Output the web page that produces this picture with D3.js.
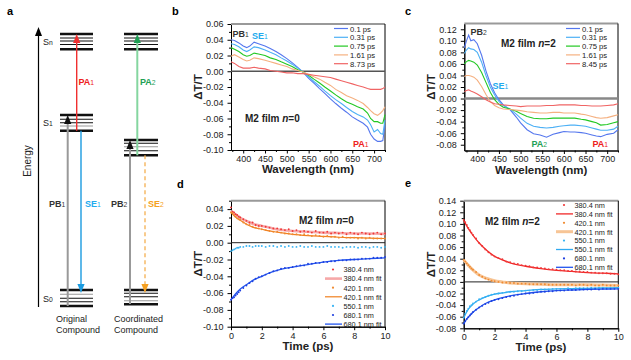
<!DOCTYPE html>
<html><head><meta charset="utf-8">
<script src="https://cdn.jsdelivr.net/npm/d3@7"></script>
<style>body{margin:0;background:#fff}svg{display:block;font-family:Arial,"Liberation Sans",sans-serif}</style>
</head><body><svg id="c" width="631" height="360"></svg>
<script>
// ---------- DATA ----------
// panel b (M2 film n=0 spectra)
const wlB = [372,380,390,400,408,415,425,435,450,462,475,487,500,512,525,537,550,562,575,587,600,612,625,637,650,662,675,685,692,700,708,715,720,725];
const b_0p1  = [0.040,0.039,0.036,0.032,0.030,0.032,0.037,0.035,0.032,0.029,0.025,0.021,0.016,0.011,0.005,-0.001,-0.009,-0.015,-0.022,-0.028,-0.035,-0.041,-0.047,-0.052,-0.058,-0.062,-0.066,-0.071,-0.080,-0.086,-0.089,-0.089,-0.088,-0.068];
const b_0p31 = [0.035,0.034,0.031,0.027,0.025,0.027,0.031,0.030,0.027,0.024,0.021,0.017,0.013,0.009,0.004,-0.001,-0.007,-0.013,-0.019,-0.025,-0.031,-0.036,-0.041,-0.046,-0.051,-0.055,-0.058,-0.062,-0.068,-0.077,-0.074,-0.079,-0.080,-0.062];
const b_0p75 = [0.030,0.028,0.025,0.021,0.019,0.020,0.023,0.022,0.020,0.017,0.015,0.012,0.009,0.006,0.002,-0.001,-0.005,-0.010,-0.015,-0.020,-0.025,-0.030,-0.035,-0.039,-0.042,-0.045,-0.048,-0.053,-0.060,-0.064,-0.064,-0.066,-0.066,-0.055];
const b_1p61 = [0.019,0.021,0.018,0.015,0.013,0.014,0.017,0.016,0.014,0.012,0.010,0.008,0.006,0.003,0.001,-0.001,-0.004,-0.007,-0.010,-0.014,-0.018,-0.023,-0.027,-0.031,-0.034,-0.037,-0.041,-0.046,-0.050,-0.054,-0.056,-0.053,-0.050,-0.045];
const b_8p73 = [0.012,0.010,0.006,0.004,0.004,0.004,0.005,0.004,0.003,0.001,0.000,-0.001,-0.002,-0.002,-0.003,-0.003,-0.004,-0.005,-0.006,-0.007,-0.008,-0.010,-0.012,-0.014,-0.016,-0.018,-0.020,-0.022,-0.023,-0.023,-0.023,-0.023,-0.022,-0.020];
const labelsB = ["0.1 ps","0.31 ps","0.75 ps","1.61 ps","8.73 ps"];

// panel c (M2 film n=2 spectra)
const wlC = [370,375,380,385,392,400,410,420,430,440,450,460,475,490,500,515,530,545,560,575,590,600,615,625,640,650,665,675,685,700,715,725];
const c_0p1  = [0.088,0.100,0.110,0.100,0.102,0.095,0.075,0.048,0.026,0.010,-0.002,-0.011,-0.019,-0.032,-0.042,-0.054,-0.061,-0.063,-0.067,-0.062,-0.059,-0.057,-0.058,-0.058,-0.059,-0.060,-0.063,-0.065,-0.066,-0.062,-0.060,-0.054];
const c_0p31 = [0.078,0.084,0.088,0.086,0.085,0.080,0.063,0.040,0.020,0.006,-0.005,-0.012,-0.018,-0.027,-0.034,-0.043,-0.048,-0.050,-0.051,-0.050,-0.048,-0.047,-0.046,-0.046,-0.047,-0.048,-0.051,-0.053,-0.055,-0.055,-0.053,-0.048];
const c_0p75 = [0.060,0.064,0.066,0.065,0.063,0.058,0.045,0.028,0.011,-0.002,-0.010,-0.015,-0.018,-0.022,-0.026,-0.031,-0.034,-0.035,-0.035,-0.034,-0.034,-0.034,-0.034,-0.034,-0.036,-0.037,-0.040,-0.042,-0.046,-0.045,-0.042,-0.040];
const c_1p61 = [0.038,0.040,0.040,0.039,0.037,0.032,0.021,0.007,-0.005,-0.012,-0.016,-0.018,-0.019,-0.020,-0.021,-0.023,-0.024,-0.025,-0.025,-0.024,-0.024,-0.025,-0.025,-0.025,-0.027,-0.028,-0.031,-0.033,-0.034,-0.033,-0.030,-0.028];
const c_8p45 = [0.012,0.014,0.015,0.013,0.011,0.008,0.003,-0.002,-0.006,-0.009,-0.010,-0.011,-0.012,-0.013,-0.014,-0.013,-0.013,-0.013,-0.012,-0.012,-0.011,-0.011,-0.011,-0.011,-0.012,-0.012,-0.013,-0.013,-0.013,-0.012,-0.011,-0.009];
const labelsC = ["0.1 ps","0.31 ps","0.75 ps","1.61 ps","8.45 ps"];

// kinetics: measured time points and fit sample times
const tDots = [0,0.1,0.2,0.3,0.4,0.5,0.6,0.8,1.0,1.2,1.4,1.6,1.8,2.0,2.25,2.5,2.75,3.0,3.25,3.5,3.75,4.0,4.25,4.5,4.75,5.0,5.25,5.5,5.75,6.0,6.25,6.5,6.75,7.0,7.25,7.5,7.75,8.0,8.25,8.5,8.75,9.0,9.25,9.5,9.75,10.0];
const tFit = [0,0.25,0.5,0.75,1,1.5,2,2.5,3,4,5,6,7,8,9,10];

// panel d (n=0)
const d_380 = [0.042,0.037,0.036,0.034,0.033,0.031,0.030,0.028,0.026,0.024,0.024,0.021,0.020,0.020,0.019,0.018,0.017,0.017,0.016,0.015,0.016,0.014,0.015,0.013,0.014,0.013,0.012,0.014,0.012,0.012,0.013,0.011,0.012,0.011,0.012,0.010,0.012,0.011,0.010,0.012,0.011,0.010,0.011,0.012,0.010,0.011];
const d_380fit = [0.038,0.034,0.031,0.028,0.026,0.022,0.020,0.018,0.016,0.014,0.013,0.012,0.0115,0.011,0.011,0.0105];
const d_420 = [0.036,0.035,0.033,0.031,0.029,0.028,0.027,0.024,0.022,0.021,0.019,0.018,0.017,0.016,0.015,0.014,0.013,0.013,0.012,0.011,0.011,0.010,0.010,0.009,0.010,0.009,0.008,0.009,0.008,0.007,0.008,0.007,0.007,0.006,0.007,0.006,0.006,0.006,0.005,0.006,0.005,0.006,0.005,0.005,0.005,0.005];
const d_420fit = [0.036,0.031,0.028,0.025,0.022,0.018,0.016,0.014,0.0125,0.010,0.0085,0.0075,0.0065,0.006,0.0055,0.005];
const d_550 = [-0.010,-0.009,-0.008,-0.007,-0.006,-0.006,-0.005,-0.005,-0.004,-0.004,-0.005,-0.004,-0.004,-0.004,-0.005,-0.004,-0.004,-0.005,-0.004,-0.005,-0.004,-0.005,-0.005,-0.004,-0.005,-0.005,-0.004,-0.005,-0.005,-0.005,-0.004,-0.005,-0.005,-0.005,-0.006,-0.005,-0.005,-0.005,-0.006,-0.005,-0.005,-0.006,-0.005,-0.005,-0.006,-0.005];
const d_680 = [-0.068,-0.066,-0.065,-0.063,-0.061,-0.059,-0.057,-0.054,-0.051,-0.048,-0.046,-0.043,-0.041,-0.040,-0.038,-0.036,-0.034,-0.033,-0.031,-0.030,-0.030,-0.029,-0.028,-0.027,-0.027,-0.025,-0.025,-0.024,-0.024,-0.023,-0.023,-0.022,-0.022,-0.021,-0.021,-0.021,-0.020,-0.020,-0.020,-0.019,-0.019,-0.019,-0.018,-0.018,-0.018,-0.017];
const d_680fit = [-0.068,-0.062,-0.057,-0.053,-0.050,-0.044,-0.040,-0.036,-0.033,-0.029,-0.026,-0.023,-0.021,-0.020,-0.019,-0.018];

// panel e (n=2)
const e_380 = [0.107,0.103,0.098,0.093,0.089,0.085,0.081,0.075,0.067,0.062,0.056,0.051,0.047,0.044,0.041,0.039,0.035,0.034,0.032,0.031,0.029,0.028,0.027,0.025,0.025,0.024,0.023,0.022,0.022,0.021,0.020,0.020,0.019,0.019,0.018,0.018,0.017,0.017,0.016,0.016,0.015,0.015,0.015,0.014,0.014,0.013];
const e_380fit = [0.106,0.094,0.084,0.075,0.067,0.054,0.044,0.038,0.033,0.027,0.023,0.020,0.018,0.016,0.015,0.014];
const e_420 = [0.038,0.035,0.032,0.029,0.026,0.023,0.021,0.017,0.012,0.009,0.006,0.004,0.002,0.001,0.000,-0.001,-0.001,-0.002,-0.002,-0.003,-0.003,-0.003,-0.004,-0.004,-0.004,-0.004,-0.004,-0.005,-0.005,-0.005,-0.005,-0.005,-0.005,-0.005,-0.006,-0.005,-0.005,-0.006,-0.005,-0.006,-0.006,-0.005,-0.006,-0.006,-0.006,-0.006];
const e_420fit = [0.038,0.030,0.023,0.017,0.012,0.006,0.002,0.000,-0.002,-0.003,-0.004,-0.005,-0.005,-0.005,-0.0055,-0.006];
const e_550 = [-0.062,-0.055,-0.050,-0.046,-0.042,-0.040,-0.037,-0.034,-0.030,-0.028,-0.026,-0.024,-0.022,-0.021,-0.020,-0.019,-0.018,-0.017,-0.017,-0.016,-0.016,-0.015,-0.015,-0.014,-0.014,-0.013,-0.013,-0.013,-0.012,-0.012,-0.012,-0.012,-0.011,-0.012,-0.011,-0.011,-0.011,-0.011,-0.010,-0.011,-0.010,-0.010,-0.011,-0.010,-0.010,-0.010];
const e_550fit = [-0.062,-0.049,-0.041,-0.035,-0.031,-0.025,-0.021,-0.019,-0.017,-0.015,-0.013,-0.012,-0.0115,-0.011,-0.0105,-0.010];
const e_680 = [-0.072,-0.068,-0.064,-0.061,-0.058,-0.055,-0.052,-0.048,-0.044,-0.041,-0.038,-0.036,-0.033,-0.031,-0.030,-0.028,-0.026,-0.025,-0.024,-0.022,-0.021,-0.020,-0.020,-0.019,-0.018,-0.017,-0.017,-0.016,-0.016,-0.015,-0.015,-0.015,-0.014,-0.014,-0.014,-0.013,-0.013,-0.013,-0.013,-0.012,-0.013,-0.012,-0.012,-0.012,-0.012,-0.012];
const e_680fit = [-0.072,-0.062,-0.055,-0.049,-0.044,-0.036,-0.031,-0.027,-0.024,-0.020,-0.017,-0.015,-0.014,-0.013,-0.0125,-0.012];

// tick labels
const wlTicks = [400,450,500,550,600,650,700];
const tTicks = [0,2,4,6,8,10];
const yTicksB = [0.06,0.04,0.02,0.00,-0.02,-0.04,-0.06,-0.08,-0.10];
const yTicksC = [0.12,0.10,0.08,0.06,0.04,0.02,0.00,-0.02,-0.04,-0.06,-0.08];
const yTicksD = [0.04,0.02,0.00,-0.02,-0.04,-0.06,-0.08,-0.10];
const yTicksE = [0.14,0.12,0.10,0.08,0.06,0.04,0.02,0.00,-0.02,-0.04,-0.06,-0.08];

// ---------- DRAW ----------
const svg = d3.select("#c");
const specColors = ["#5577ee","#4db0f5","#22c822","#f5b080","#f06464"];
const FONT = "Arial, 'Liberation Sans', sans-serif";
const LEGF = 7.3;
const fmt = d => d.toFixed(2);

function panel(cfg){
  const g = svg.append("g");
  const x = d3.scaleLinear().domain(cfg.xd).range([cfg.l, cfg.r]);
  const y = d3.scaleLinear().domain(cfg.yd).range([cfg.b, cfg.t]);
  const style = a => { a.attr("font-family", FONT).attr("font-size", 9);
    a.select(".domain").attr("stroke","#000");
    a.selectAll(".tick line").attr("stroke","#000");
    a.selectAll(".tick text").attr("fill","#222"); };
  g.append("g").attr("transform",`translate(0,${cfg.b})`)
    .call(d3.axisBottom(x).tickValues(cfg.xMinor).tickSize(2).tickSizeOuter(0).tickFormat("")).call(style);
  g.append("g").attr("transform",`translate(0,${cfg.b})`)
    .call(d3.axisBottom(x).tickValues(cfg.xTicks).tickSize(3.5).tickSizeOuter(0).tickPadding(2).tickFormat(d=>String(d))).call(style);
  g.append("g").attr("transform",`translate(${cfg.l},0)`)
    .call(d3.axisLeft(y).tickValues(cfg.yMinor).tickSize(2).tickSizeOuter(0).tickFormat("")).call(style);
  g.append("g").attr("transform",`translate(${cfg.l},0)`)
    .call(d3.axisLeft(y).tickValues(cfg.yTicks).tickSize(3.5).tickSizeOuter(0).tickPadding(4).tickFormat(fmt)).call(style);
  g.append("line").attr("x1",cfg.l).attr("x2",cfg.r).attr("y1",cfg.t).attr("y2",cfg.t).attr("stroke","#999").attr("stroke-width",2);
  g.append("line").attr("x1",cfg.r).attr("x2",cfg.r).attr("y1",cfg.t).attr("y2",cfg.b).attr("stroke","#000").attr("stroke-width",1);
  g.append("line").attr("x1",cfg.l).attr("x2",cfg.r).attr("y1",y(0)).attr("y2",y(0))
    .attr("stroke",cfg.zeroColor).attr("stroke-width",cfg.zeroWidth);
  g.append("text").attr("x",(cfg.l+cfg.r)/2).attr("y",cfg.b+23).attr("text-anchor","middle")
    .attr("font-weight","bold").attr("font-size",11.5).attr("font-family",FONT).attr("fill","#222").text(cfg.xLabel);
  g.append("text").attr("transform",`translate(${cfg.l-29},${(cfg.t+cfg.b)/2}) rotate(-90)`).attr("text-anchor","middle")
    .attr("font-weight","bold").attr("font-size",11.5).attr("font-family",FONT).attr("fill","#222").text("ΔT/T");
  return {g,x,y};
}

function txt(g,x,y,parts,opts={}){
  const t = g.append("text").attr("x",x).attr("y",y).attr("font-family",FONT).attr("font-size",opts.size||9)
    .attr("font-weight",opts.weight||"normal").attr("fill",opts.fill||"#222");
  if(opts.anchor) t.attr("text-anchor",opts.anchor);
  parts.forEach(p=>{ const s=t.append("tspan").text(p.t);
    if(p.small) s.attr("font-size",(opts.size||9)*0.75).attr("font-weight","normal");
    if(p.italic) s.attr("font-style","italic"); });
  return t;
}

// ---- panel a (schematic) ----
(function(){
  const g = svg.append("g");
  txt(g,7,15,[{t:"a"}],{size:11,weight:"bold",fill:"#000"});
  g.append("line").attr("x1",38.5).attr("x2",38.5).attr("y1",307).attr("y2",34).attr("stroke","#000").attr("stroke-width",1.2);
  g.append("path").attr("d","M38.5,27 L35,36 L42,36 Z").attr("fill","#000");
  g.append("text").attr("transform","translate(31,161) rotate(-90)").attr("text-anchor","middle")
    .attr("font-family",FONT).attr("font-size",10).attr("fill","#222").text("Energy");
  const levels = (x1,x2,arr) => arr.forEach(([y,type])=>{
    g.append("line").attr("x1",x1).attr("x2",x2).attr("y1",y).attr("y2",y)
      .attr("stroke", type==="g" ? "#999" : "#111").attr("stroke-width", type==="T" ? 2.6 : 1.1);
  });
  const L=[60,93], R=[124,158];
  levels(L[0],L[1],[[34,"T"],[38,"t"],[41,"t"],[44.5,"t"],[49.3,"T"]]);
  levels(R[0],R[1],[[34,"T"],[38,"t"],[41,"t"],[44.5,"t"],[49.3,"T"]]);
  levels(L[0],L[1],[[115,"T"],[119.3,"t"],[122.7,"t"],[126,"g"],[130.7,"T"]]);
  levels(R[0],R[1],[[140,"T"],[143.3,"t"],[146.7,"g"],[150.7,"t"],[155.3,"T"]]);
  levels(L[0],L[1],[[290,"T"],[294.3,"g"],[298.3,"t"],[301.7,"t"],[306,"T"]]);
  levels(R[0],R[1],[[290,"T"],[293.3,"t"],[296.7,"t"],[300.7,"g"],[304.3,"T"]]);
  txt(g,43,45,[{t:"S"},{t:"n",small:true}],{size:9});
  txt(g,43,126,[{t:"S"},{t:"1",small:true}],{size:9});
  txt(g,43,302,[{t:"S"},{t:"0",small:true}],{size:9});
  const vline=(x,y1,y2,c,w,dash)=>{ const l=g.append("line").attr("x1",x).attr("x2",x).attr("y1",y1).attr("y2",y2).attr("stroke",c).attr("stroke-width",w); if(dash) l.attr("stroke-dasharray",dash); };
  const up=(x,tip,c)=>g.append("path").attr("d",`M${x},${tip} L${x-3.6},${tip+9} L${x+3.6},${tip+9} Z`).attr("fill",c);
  const down=(x,tip,c)=>g.append("path").attr("d",`M${x},${tip} L${x-3.6},${tip-9} L${x+3.6},${tip-9} Z`).attr("fill",c);
  vline(67.7,306,123,"#999",2); up(67.7,115,"#111");
  vline(76.7,130.7,42,"#f03030",1.4); up(76.7,34,"#f03030");
  vline(81,130.7,285,"#1a9be0",1.4); down(81,293,"#1a9be0");
  vline(130,304,147,"#999",2); up(130,140,"#111");
  vline(137.3,155.3,42,"#85d6a0",2); up(137.3,34,"#1fa055");
  vline(145,155.3,285,"#f5b050",1.3,"4,3"); down(145,293,"#f5a020");
  txt(g,78.5,85,[{t:"PA"},{t:"1",small:true}],{size:9,weight:"bold",fill:"#ee2020"});
  txt(g,140,85,[{t:"PA"},{t:"2",small:true}],{size:9,weight:"bold",fill:"#1fa055"});
  txt(g,49,207,[{t:"PB"},{t:"1",small:true}],{size:9,weight:"bold",fill:"#333"});
  txt(g,85,207,[{t:"SE"},{t:"1",small:true}],{size:9,weight:"bold",fill:"#22aaee"});
  txt(g,111,207,[{t:"PB"},{t:"2",small:true}],{size:9,weight:"bold",fill:"#333"});
  txt(g,148,207,[{t:"SE"},{t:"2",small:true}],{size:9,weight:"bold",fill:"#f5a020"});
  txt(g,56,322,[{t:"Original"}],{size:9});
  txt(g,56,333,[{t:"Compound"}],{size:9});
  txt(g,114,322,[{t:"Coordinated"}],{size:9});
  txt(g,114,333,[{t:"Compound"}],{size:9});
})();

// ---- spectra panels ----
function spectra(cfg, wl, series, labels, legendX){
  const p = panel(cfg);
  const line = d3.line().x((d,i)=>p.x(wl[i])).y(d=>p.y(d));
  series.forEach((s,i)=>p.g.append("path").attr("d",line(s)).attr("fill","none").attr("stroke",specColors[i]).attr("stroke-width",1.1));
  labels.forEach((lab,i)=>{
    const yy = 28.5 + i*8.8;
    p.g.append("line").attr("x1",legendX).attr("x2",legendX+14).attr("y1",yy).attr("y2",yy).attr("stroke",specColors[i]).attr("stroke-width",1.2);
    p.g.append("text").attr("x",legendX+16).attr("y",yy+3).attr("font-family",FONT).attr("font-size",LEGF+0.4).attr("fill","#222").text(lab);
  });
  return p;
}
const pb = spectra({l:231,r:385,t:24,b:150,xd:[372,725],yd:[-0.10,0.06],xTicks:wlTicks,xMinor:wlTicks.map(v=>v-25).concat([725]).filter(v=>v>372),
  yTicks:yTicksB,yMinor:yTicksB.map(v=>v-0.01).filter(v=>v>-0.10),zeroColor:"#555",zeroWidth:1.3,xLabel:"Wavelength (nm)"},
  wlB,[b_0p1,b_0p31,b_0p75,b_1p61,b_8p73],labelsB,334);
txt(pb.g,172,15,[{t:"b"}],{size:11,weight:"bold",fill:"#000"});
txt(pb.g,232.5,37,[{t:"PB"},{t:"1",small:true}],{size:9,weight:"bold",fill:"#333"});
txt(pb.g,252,39,[{t:"SE"},{t:"1",small:true}],{size:9,weight:"bold",fill:"#22aaee"});
txt(pb.g,245,122,[{t:"M2 film "},{t:"n",italic:true},{t:"=0"}],{size:10,weight:"bold",fill:"#222"});
txt(pb.g,353,147,[{t:"PA"},{t:"1",small:true}],{size:9,weight:"bold",fill:"#ee2020"});

const pc = spectra({l:464.3,r:618,t:23.5,b:150.5,xd:[370,725],yd:[-0.09,0.13],xTicks:wlTicks,xMinor:wlTicks.map(v=>v-25).concat([725]),
  yTicks:yTicksC,yMinor:yTicksC.map(v=>v-0.01).filter(v=>v>-0.09),zeroColor:"#888",zeroWidth:2.6,xLabel:"Wavelength (nm)"},
  wlC,[c_0p1,c_0p31,c_0p75,c_1p61,c_8p45],labelsC,566);
txt(pc.g,405,15,[{t:"c"}],{size:11,weight:"bold",fill:"#000"});
txt(pc.g,470.5,35,[{t:"PB"},{t:"2",small:true}],{size:9,weight:"bold",fill:"#333"});
txt(pc.g,501,47,[{t:"M2 film "},{t:"n",italic:true},{t:"=2"}],{size:10,weight:"bold",fill:"#222"});
txt(pc.g,492.5,89,[{t:"SE"},{t:"1",small:true}],{size:9,weight:"bold",fill:"#22aaee"});
txt(pc.g,531.5,147,[{t:"PA"},{t:"2",small:true}],{size:9,weight:"bold",fill:"#1fa055"});
txt(pc.g,592.5,147,[{t:"PA"},{t:"1",small:true}],{size:9,weight:"bold",fill:"#ee2020"});

// ---- kinetics panels ----
function kinetics(cfg, dots, fits, legend, lg){
  const p = panel(cfg);
  const fl = d3.line().curve(d3.curveMonotoneX).x((d,i)=>p.x(tFit[i])).y(d=>p.y(d));
  fits.forEach(f=>p.g.append("path").attr("d",fl(f.v)).attr("fill","none").attr("stroke",f.c).attr("stroke-width",f.w));
  dots.forEach(s=>p.g.append("g").selectAll("circle").data(s.v).join("circle")
    .attr("cx",(d,i)=>p.x(tDots[i])).attr("cy",d=>p.y(d)).attr("r",0.95).attr("fill",s.c));
  legend.forEach((it,i)=>{
    const yy = lg.y0 + i*lg.dy;
    if(it.dot) p.g.append("circle").attr("cx",lg.x+8).attr("cy",yy).attr("r",1.1).attr("fill",it.c);
    else p.g.append("line").attr("x1",lg.x).attr("x2",lg.x+17).attr("y1",yy).attr("y2",yy).attr("stroke",it.c).attr("stroke-width",it.w);
    p.g.append("text").attr("x",lg.x+18.5).attr("y",yy+2.8).attr("font-family",FONT).attr("font-size",LEGF).attr("fill","#222").text(it.t);
  });
  return p;
}
const pd = kinetics({l:231,r:385,t:200.7,b:326.7,xd:[0,10],yd:[-0.10,0.05],xTicks:tTicks,xMinor:[1,3,5,7,9],
  yTicks:yTicksD,yMinor:[0.05,0.03,0.01,-0.01,-0.03,-0.05,-0.07,-0.09],zeroColor:"#222",zeroWidth:1,xLabel:"Time (ps)"},
  [{v:d_380,c:"#f03838"},{v:d_420,c:"#f08a30"},{v:d_550,c:"#38b4f4"},{v:d_680,c:"#2040e0"}],
  [{v:d_380fit,c:"#f6a8a8",w:2.6},{v:d_420fit,c:"#f08020",w:1.2},{v:d_680fit,c:"#2255ee",w:1.3}],
  [{t:"380.4 nm",c:"#f03838",dot:true},{t:"380.4 nm fit",c:"#f6a8a8",w:2.6},{t:"420.1 nm",c:"#f08a30",dot:true},
   {t:"420.1 nm fit",c:"#f08020",w:1.2},{t:"550.1 nm",c:"#38b4f4",dot:true},{t:"680.1 nm",c:"#2040e0",dot:true},{t:"680.1 nm fit",c:"#2255ee",w:1.3}],
  {x:325,y0:269.5,dy:9.1});
txt(pd.g,177,188,[{t:"d"}],{size:11,weight:"bold",fill:"#000"});
txt(pd.g,299,224,[{t:"M2 film "},{t:"n",italic:true},{t:"=0"}],{size:10,weight:"bold",fill:"#222"});

const pe = kinetics({l:463.7,r:618.3,t:200.7,b:328.3,xd:[0,10],yd:[-0.08,0.14],xTicks:tTicks,xMinor:[1,3,5,7,9],
  yTicks:yTicksE,yMinor:yTicksE.map(v=>v-0.01).filter(v=>v>-0.08),zeroColor:"#222",zeroWidth:1,xLabel:"Time (ps)"},
  [{v:e_380,c:"#f03838"},{v:e_420,c:"#f08a30"},{v:e_550,c:"#38b4f4"},{v:e_680,c:"#2040e0"}],
  [{v:e_380fit,c:"#f02828",w:1.3},{v:e_420fit,c:"#f7c596",w:3},{v:e_550fit,c:"#30aaf0",w:1.3},{v:e_680fit,c:"#2255ee",w:1.3}],
  [{t:"380.4 nm",c:"#f03838",dot:true},{t:"380.4 nm fit",c:"#f02828",w:1.3},{t:"420.1 nm",c:"#f08a30",dot:true},
   {t:"420.1 nm fit",c:"#f7c596",w:3},{t:"550.1 nm",c:"#38b4f4",dot:true},{t:"550.1 nm fit",c:"#30aaf0",w:1.3},
   {t:"680.1 nm",c:"#2040e0",dot:true},{t:"680.1 nm fit",c:"#2255ee",w:1.3}],
  {x:556,y0:205,dy:8.9});
txt(pe.g,405,187,[{t:"e"}],{size:11,weight:"bold",fill:"#000"});
txt(pe.g,485,225,[{t:"M2 film "},{t:"n",italic:true},{t:"=2"}],{size:10,weight:"bold",fill:"#222"});
</script></body></html>
